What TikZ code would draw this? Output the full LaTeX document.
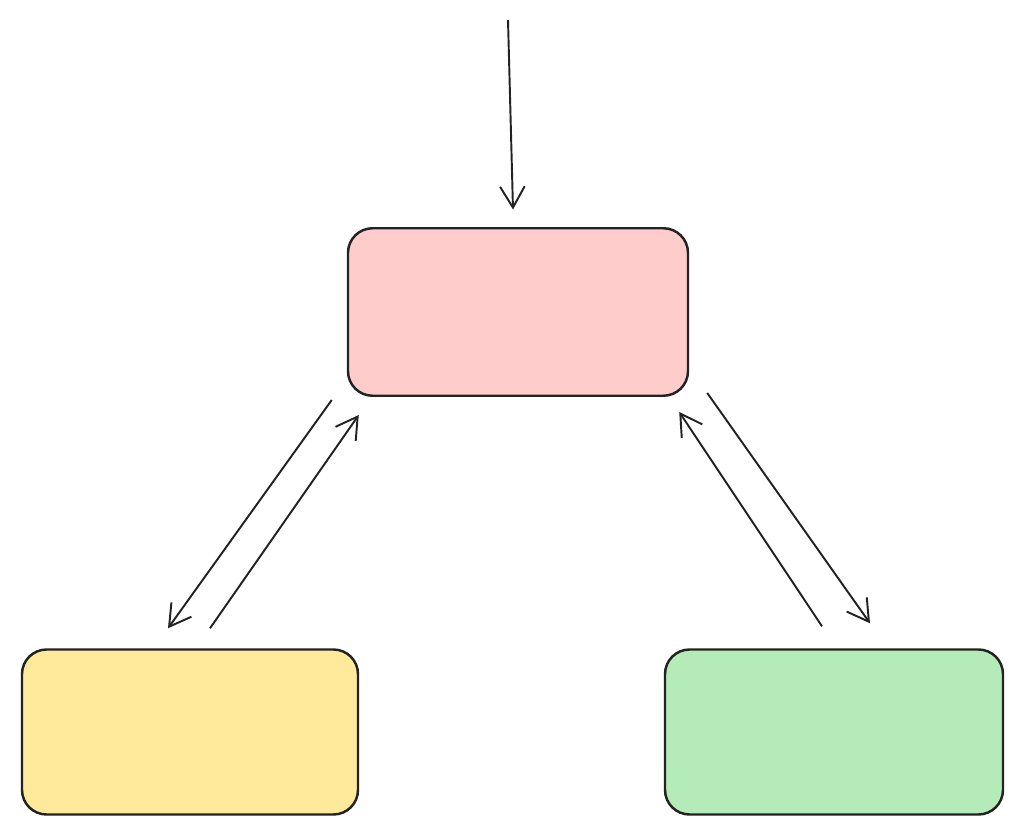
\documentclass[tikz,border=0pt]{standalone}
\usetikzlibrary{arrows.meta}
\definecolor{supfill}{HTML}{FFCCCC}
\definecolor{wkyellow}{HTML}{FFE99A}
\definecolor{wkgreen}{HTML}{B4EBB8}
\definecolor{inkc}{HTML}{222222}
\begin{document}
\begin{tikzpicture}[
    agent/.style={draw=inkc, line width=1.4pt, rounded corners=14pt,
      minimum width=6.8cm, minimum height=3.35cm, align=center,
      font=\fontsize{26}{34}\selectfont},
    flow/.style={draw=inkc, line width=1.1pt, -{Straight Barb[length=12pt,width=14pt]}}]
    \useasboundingbox (0,0) rectangle (20.46,16.76);
    % Agents
    \node[agent, fill=supfill] (sup) at (10.36,10.52) {पर्यवेक्षक\\एजेंट};
    \node[agent, fill=wkyellow, minimum width=6.72cm, minimum height=3.3cm]
      (wl) at (3.8,2.12) {कार्यकर्ता\\एजेंट};
    \node[agent, fill=wkgreen, minimum width=6.76cm, minimum height=3.3cm]
      (wr) at (16.68,2.12) {कार्यकर्ता\\एजेंट};
    \coordinate (in) at (10.16,16.36);
    % Connectors
    \draw[flow] (in) -- ([xshift=-0.1cm,yshift=0.35cm]sup.north);
    \draw[flow] ([xshift=-0.3cm,yshift=-0.06cm]sup.south west)
      -- ([xshift=-0.44cm,yshift=0.4cm]wl.north);
    \draw[flow] ([xshift=0.4cm,yshift=0.4cm]wl.north)
      -- ([xshift=0.24cm,yshift=-0.36cm]sup.south west);
    \draw[flow] ([xshift=0.36cm,yshift=0.08cm]sup.south east)
      -- ([xshift=0.72cm,yshift=0.5cm]wr.north);
    \draw[flow] ([xshift=-0.24cm,yshift=0.44cm]wr.north)
      -- ([xshift=-0.2cm,yshift=-0.3cm]sup.south east);
\end{tikzpicture}
\end{document}
